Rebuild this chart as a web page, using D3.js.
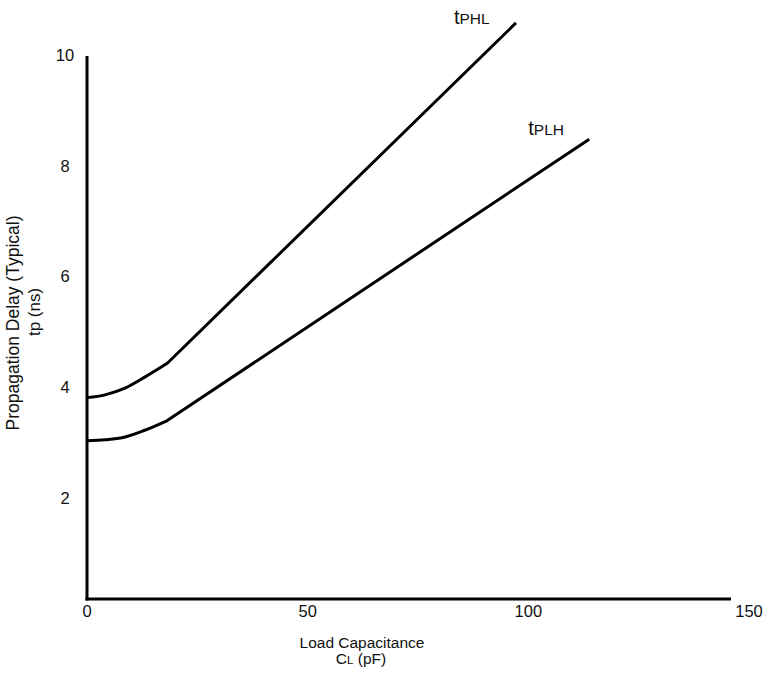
<!DOCTYPE html>
<html>
<head>
<meta charset="utf-8">
<script src="https://cdn.jsdelivr.net/npm/d3@7"></script>
<style>
  body { margin: 0; background: #fff; }
  svg { display: block; font-family: "Liberation Sans", Arial, Helvetica, sans-serif; }
  text { fill: #111; }
</style>
</head>
<body>
<svg id="chart" width="769" height="676"></svg>
<script>
// load capacitance (pF) vs typical propagation delay (ns)
// the last point of each list is the end of the straight part, the rest is the bend near 0
let tphlCap   = [0, 4.1, 8.6, 13.1, 18.2, 97.2];
let tphlDelay = [3.81, 3.86, 3.98, 4.18, 4.43, 10.58];
let tplhCap   = [0, 4.1, 8.2, 13.1, 18.1, 113.8];
let tplhDelay = [3.03, 3.05, 3.09, 3.22, 3.39, 8.48];

let xTicks = [0, 50, 100, 150];
let yTicks = [2, 4, 6, 8, 10];
let seriesNames = [["t", "PHL"], ["t", "PLH"]];

let svg = d3.select('#chart');
let plotLeft = 87, plotRight = 731, plotTop = 56, plotBottom = 599;

let x = d3.scaleLinear().domain([0, 150]).range([plotLeft, 749]);
let y = d3.scaleLinear().domain([0, 10]).range([608.5, 55]);

// frame: left and bottom axis lines only
svg.append('line')
    .attr('x1', plotLeft).attr('y1', plotTop)
    .attr('x2', plotLeft).attr('y2', plotBottom + 1.5)
    .attr('stroke', '#000').attr('stroke-width', 3);
svg.append('line')
    .attr('x1', plotLeft - 1.5).attr('y1', plotBottom)
    .attr('x2', plotRight).attr('y2', plotBottom)
    .attr('stroke', '#000').attr('stroke-width', 3);

// tick labels (no tick marks in original)
svg.selectAll('.xtick')
    .data(xTicks)
    .enter().append('text')
    .attr('class', 'xtick')
    .attr('x', d => x(d))
    .attr('y', plotBottom + 18)
    .attr('text-anchor', 'middle')
    .attr('font-size', 16.5)
    .text(d => d);

svg.selectAll('.ytick')
    .data(yTicks)
    .enter().append('text')
    .attr('class', 'ytick')
    .attr('x', plotLeft - 22)
    .attr('y', d => y(d))
    .attr('dy', '0.36em')
    .attr('text-anchor', 'middle')
    .attr('font-size', 16.5)
    .text(d => d);

// curves: smooth bend, then straight to the end point
let bend = d3.line()
    .x(d => x(d[0]))
    .y(d => y(d[1]))
    .curve(d3.curveMonotoneX);

let series = [
    d3.zip(tphlCap, tphlDelay),
    d3.zip(tplhCap, tplhDelay)
];

function curvePath(pts) {
    let last = pts[pts.length - 1];
    return bend(pts.slice(0, -1)) + `L${x(last[0])},${y(last[1])}`;
}

svg.selectAll('.curve')
    .data(series)
    .enter().append('path')
    .attr('class', 'curve')
    .attr('d', curvePath)
    .attr('fill', 'none')
    .attr('stroke', '#000')
    .attr('stroke-width', 3)
    .attr('stroke-linejoin', 'round');

// series labels near the ends of the curves
let labelOffsets = [[-62, 1], [-61, -4]];
let labels = svg.selectAll('.series-label')
    .data(series)
    .enter().append('text')
    .attr('class', 'series-label')
    .attr('x', (d, i) => x(d[d.length - 1][0]) + labelOffsets[i][0])
    .attr('y', (d, i) => y(d[d.length - 1][1]) + labelOffsets[i][1]);
labels.append('tspan').attr('font-size', 20).text((d, i) => seriesNames[i][0]);
labels.append('tspan').attr('font-size', 15.5).text((d, i) => seriesNames[i][1]);

// axis titles
let xTitle = svg.append('g').attr('text-anchor', 'middle').attr('font-size', 15.5);
xTitle.append('text').attr('x', 362).attr('y', 648).text('Load Capacitance');
let cl = xTitle.append('text').attr('x', 361).attr('y', 664);
cl.append('tspan').text('C');
cl.append('tspan').attr('font-size', 11.5).text('L');
cl.append('tspan').text(' (pF)');

let yTitle = svg.append('g').attr('text-anchor', 'middle');
yTitle.append('text')
    .attr('transform', 'translate(19,323) rotate(-90)')
    .attr('font-size', 17.5)
    .text('Propagation Delay (Typical)');
yTitle.append('text')
    .attr('transform', 'translate(40,312) rotate(-90)')
    .attr('font-size', 17)
    .text('tp (ns)');
</script>
</body>
</html>
